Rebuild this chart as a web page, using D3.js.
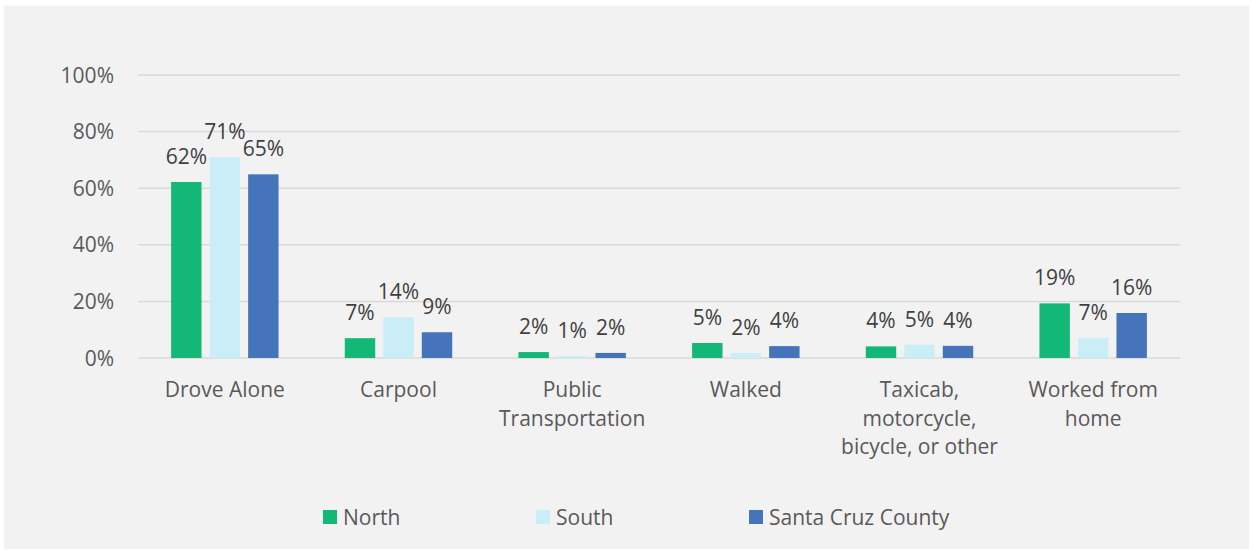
<!DOCTYPE html>
<html>
<head>
<meta charset="utf-8">
<script src="https://cdn.jsdelivr.net/npm/d3@7"></script>
<style>
body { margin: 0; background: #fff; }
text { font-family: "Open Sans", sans-serif; }
.grid line { stroke: #d9d9d9; stroke-width: 1.5; }
.ylab { font-size: 21px; fill: #595959; }
.xlab { font-size: 21px; fill: #595959; }
.val { font-size: 21px; fill: #404040; }
.leg { font-size: 21px; fill: #595959; }
</style>
</head>
<body>
<svg id="chart" width="1252" height="550"></svg>
<script>
var categories = [
    ["Drove Alone"],
    ["Carpool"],
    ["Public", "Transportation"],
    ["Walked"],
    ["Taxicab,", "motorcycle,", "bicycle, or other"],
    ["Worked from", "home"]
];
var seriesNames = ["North", "South", "Santa Cruz County"];
var seriesColors = ["#13b776", "#c9eef8", "#4674ba"];
var north = [62.2, 7.0, 2.1, 5.3, 4.1, 19.3];
var south = [71.0, 14.4, 0.7, 1.8, 4.7, 7.1];
var county = [64.9, 9.1, 1.8, 4.2, 4.3, 15.9];
var yTicks = [0, 20, 40, 60, 80, 100];

var svg = d3.select("#chart");

// grey panel
svg.append("rect")
    .attr("x", 4).attr("y", 6)
    .attr("width", 1245).attr("height", 543)
    .attr("fill", "#f2f2f2");

var plotL = 138, plotR = 1180, plotT = 75, plotB = 358;

var x = d3.scaleBand()
    .domain(d3.range(categories.length))
    .range([plotL, plotR]);

var x1 = d3.scaleBand()
    .domain(d3.range(seriesNames.length))
    .range([0, x.bandwidth()])
    .paddingInner(0.21)
    .paddingOuter(0.86);

var y = d3.scaleLinear().domain([0, 100]).range([plotB, plotT]);

// gridlines
svg.append("g").attr("class", "grid")
    .selectAll("line")
    .data(yTicks)
    .enter().append("line")
    .attr("x1", plotL).attr("x2", plotR)
    .attr("y1", function(d) { return y(d); })
    .attr("y2", function(d) { return y(d); });

// y axis labels
svg.append("g")
    .selectAll("text")
    .data(yTicks)
    .enter().append("text")
    .attr("class", "ylab")
    .attr("x", 114)
    .attr("y", function(d) { return y(d); })
    .attr("dy", "0.36em")
    .attr("text-anchor", "end")
    .text(function(d) { return d + "%"; });

var allSeries = [north, south, county];

allSeries.forEach(function(vals, s) {
    var g = svg.append("g");
    g.selectAll("rect")
        .data(vals)
        .enter().append("rect")
        .attr("x", function(d, i) { return x(i) + x1(s); })
        .attr("width", x1.bandwidth())
        .attr("y", function(d) { return y(d); })
        .attr("height", function(d) { return y(0) - y(d); })
        .attr("fill", seriesColors[s]);

    g.selectAll("text")
        .data(vals)
        .enter().append("text")
        .attr("class", "val")
        .attr("x", function(d, i) { return x(i) + x1(s) + x1.bandwidth() / 2; })
        .attr("y", function(d) { return y(d) - 18; })
        .attr("text-anchor", "middle")
        .text(function(d) { return Math.round(d) + "%"; });
});

// category labels
var xl = svg.append("g")
    .selectAll("text")
    .data(categories)
    .enter().append("text")
    .attr("class", "xlab")
    .attr("text-anchor", "middle")
    .attr("x", function(d, i) { return x(i) + x.bandwidth() / 2; })
    .attr("y", 397);

xl.selectAll("tspan")
    .data(function(d) { return d; })
    .enter().append("tspan")
    .attr("x", function() { return d3.select(this.parentNode).attr("x"); })
    .attr("dy", function(d, i) { return i === 0 ? 0 : 28.7; })
    .text(function(d) { return d; });

// legend
var legX = [323, 536, 749];
var leg = svg.append("g")
    .selectAll("g")
    .data(seriesNames)
    .enter().append("g")
    .attr("transform", function(d, i) { return "translate(" + legX[i] + ",510)"; });

leg.append("rect")
    .attr("width", 14).attr("height", 14)
    .attr("fill", function(d, i) { return seriesColors[i]; });

leg.append("text")
    .attr("class", "leg")
    .attr("x", 20)
    .attr("y", 7)
    .attr("dy", "0.36em")
    .text(function(d) { return d; });
</script>
</body>
</html>
